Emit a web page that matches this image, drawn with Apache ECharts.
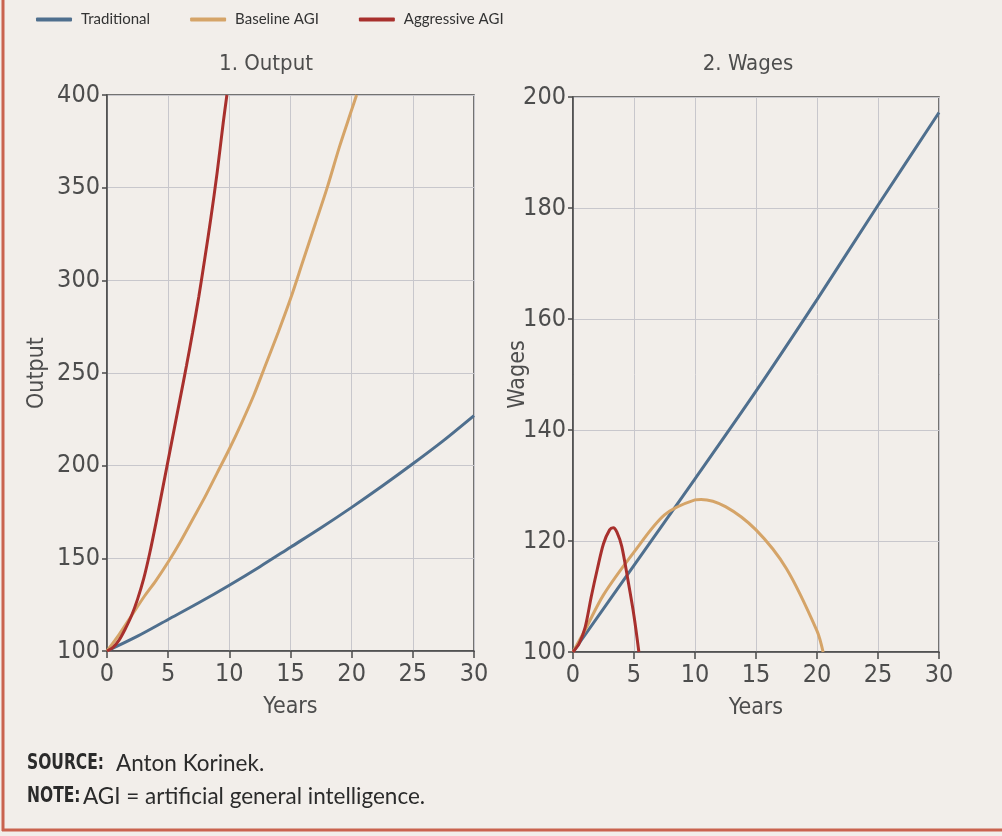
<!DOCTYPE html>
<html>
<head>
<meta charset="utf-8">
<script src="https://cdn.jsdelivr.net/npm/echarts/dist/echarts.min.js"></script>
<style>
  html, body { margin: 0; padding: 0; background: #f2eeea; }
  #main { width: 1002px; height: 836px; }
</style>
</head>
<body>
<div id="main"></div>
<script>
// values
// panel 1: output
var outTradYears = [0, 2.5, 5, 7.5, 10, 12.5, 15, 17.5, 20, 22.5, 25, 27.5, 30];
var outTradVals  = [100, 108, 117, 126, 135.5, 145.5, 156, 166.5, 177.5, 189, 201, 213.5, 227];
var outBaseYears = [0, 1, 2, 3, 4, 5, 6, 7, 8, 9, 10, 11, 12, 13, 14, 15, 16, 17, 18, 19, 20, 20.4];
var outBaseVals  = [100, 109, 119, 129, 138, 148, 159, 171, 183, 196, 209, 223, 238, 255, 272, 290, 310, 330, 350, 372, 392, 400];
var outAggYears  = [0, 0.5, 1, 1.5, 2, 2.5, 3, 3.5, 4, 4.5, 5, 5.5, 6, 6.5, 7, 7.5, 8, 8.5, 9, 9.5, 9.8];
var outAggVals   = [100, 102, 106, 112, 119, 128, 139, 153, 169, 186, 203, 220, 237, 254, 272, 291, 312, 334, 358, 385, 400];
// panel 2: wages
var wageTradYears = [0, 5, 10, 15, 20, 25, 30];
var wageTradVals  = [100, 115.6, 131.2, 147, 163.5, 180.5, 197.2];
var wageBaseYears = [0, 1, 2.5, 5, 7.5, 10, 10.5, 12.5, 15, 17.5, 20, 20.5];
var wageBaseVals  = [100, 104, 110.3, 118, 124.7, 127.4, 127.5, 126.2, 122, 115, 103.8, 100];
var wageAggYears  = [0, 0.5, 1, 1.5, 2, 2.5, 3, 3.3, 3.6, 4, 4.5, 5, 5.4];
var wageAggVals   = [100, 101.5, 104.5, 110, 115, 119.5, 122, 122.4, 121.6, 119, 113, 106.5, 100];

var seriesNames = ['Traditional', 'Baseline AGI', 'Aggressive AGI'];
var colors = ['#4f6f8e', '#d5a468', '#a8302d'];

function pairs(xs, ys) {
  return xs.map(function (x, i) { return [x, ys[i]]; });
}

var textColor = '#4d4d4d';
var narrow = '"DejaVu Sans"';
// font-stretch goes in through fontStyle so the canvas gets a condensed face
var squeeze = 'condensed';

function xAxisFor(idx) {
  return {
    gridIndex: idx, type: 'value', min: 0, max: 30, interval: 5,
    name: 'Years', nameLocation: 'middle', nameGap: 45, nameMoveOverlap: false,
    nameTextStyle: { fontFamily: narrow, fontStyle: squeeze, fontSize: 23, color: textColor },
    axisLine: { show: true, lineStyle: { color: '#4a4a4a', width: 1.5 } },
    axisTick: { show: true, length: 7, lineStyle: { color: '#4a4a4a', width: 1.5 } },
    axisLabel: { fontFamily: narrow, fontStyle: squeeze, fontSize: 25, color: textColor, margin: 11 },
    splitLine: { show: true, lineStyle: { color: '#c8c7cc', width: 1 } }
  };
}

function yAxisFor(idx, name, min, max, step, gap) {
  return {
    gridIndex: idx, type: 'value', min: min, max: max, interval: step,
    name: name, nameLocation: 'middle', nameGap: gap, nameRotate: 90, nameMoveOverlap: false,
    nameTextStyle: { fontFamily: narrow, fontStyle: squeeze, fontSize: 23, color: textColor },
    axisLine: { show: true, lineStyle: { color: '#4a4a4a', width: 1.5 } },
    axisTick: { show: true, length: 5, lineStyle: { color: '#4a4a4a', width: 1.5 } },
    axisLabel: { fontFamily: narrow, fontStyle: squeeze, fontSize: 25, color: textColor, margin: 7 },
    splitLine: { show: true, lineStyle: { color: '#c8c7cc', width: 1 } }
  };
}

function line(name, data, color, idx) {
  return {
    name: name, type: 'line', data: data,
    xAxisIndex: idx, yAxisIndex: idx,
    smooth: 0.3,
    symbol: 'none', clip: true,
    lineStyle: { color: color, width: 3 },
    itemStyle: { color: color }
  };
}

var myChart = echarts.init(document.getElementById('main'));

var condFont = function (w, size) {
  return w + ' condensed ' + size + 'px "DejaVu Sans"';
};

var option = {
  backgroundColor: '#f2eeea',
  animation: false,
  legend: {
    data: seriesNames,
    left: 31, top: 7,
    icon: 'roundRect', itemWidth: 36, itemHeight: 4, itemGap: 40,
    textStyle: { fontFamily: 'Lato', fontSize: 15, color: '#333', padding: [0, 0, 0, 4] }
  },
  grid: [
    { left: 107, top: 95, width: 367, height: 556, show: true, borderColor: '#4a4a4a', borderWidth: 1.5 },
    { left: 573, top: 97, width: 366, height: 555, show: true, borderColor: '#4a4a4a', borderWidth: 1.5 }
  ],
  xAxis: [xAxisFor(0), xAxisFor(1)],
  yAxis: [
    yAxisFor(0, 'Output', 100, 400, 50, 58),
    yAxisFor(1, 'Wages', 100, 200, 20, 43)
  ],
  series: [
    line(seriesNames[0], pairs(outTradYears, outTradVals), colors[0], 0),
    line(seriesNames[1], pairs(outBaseYears, outBaseVals), colors[1], 0),
    line(seriesNames[2], pairs(outAggYears, outAggVals), colors[2], 0),
    line(seriesNames[0], pairs(wageTradYears, wageTradVals), colors[0], 1),
    line(seriesNames[1], pairs(wageBaseYears, wageBaseVals), colors[1], 1),
    line(seriesNames[2], pairs(wageAggYears, wageAggVals), colors[2], 1)
  ],
  graphic: [
    // frame edges
    { type: 'line', shape: { x1: 3, y1: 0, x2: 3, y2: 831 }, style: { stroke: '#c9634f', lineWidth: 3 } },
    { type: 'line', shape: { x1: 2, y1: 830, x2: 1002, y2: 830 }, style: { stroke: '#c9634f', lineWidth: 3 } },
    // panel titles
    { type: 'text', x: 266, y: 64, style: { text: '1. Output', align: 'center', verticalAlign: 'middle', fill: textColor, font: condFont('normal', 22) } },
    { type: 'text', x: 748, y: 64, style: { text: '2. Wages', align: 'center', verticalAlign: 'middle', fill: textColor, font: condFont('normal', 22) } },
    // notes
    { type: 'text', x: 27, y: 764, scaleX: 0.82, style: { text: 'SOURCE:', verticalAlign: 'middle', fill: '#2b2b2b', font: condFont('bold', 21) } },
    { type: 'text', x: 116, y: 764, style: { text: 'Anton Korinek.', verticalAlign: 'middle', fill: '#2b2b2b', font: '22.5px Lato' } },
    { type: 'text', x: 27, y: 797, scaleX: 0.82, style: { text: 'NOTE:', verticalAlign: 'middle', fill: '#2b2b2b', font: condFont('bold', 21) } },
    { type: 'text', x: 83, y: 797, style: { text: 'AGI = artificial general intelligence.', verticalAlign: 'middle', fill: '#2b2b2b', font: '22.5px Lato' } }
  ]
};

myChart.setOption(option);
</script>
</body>
</html>
